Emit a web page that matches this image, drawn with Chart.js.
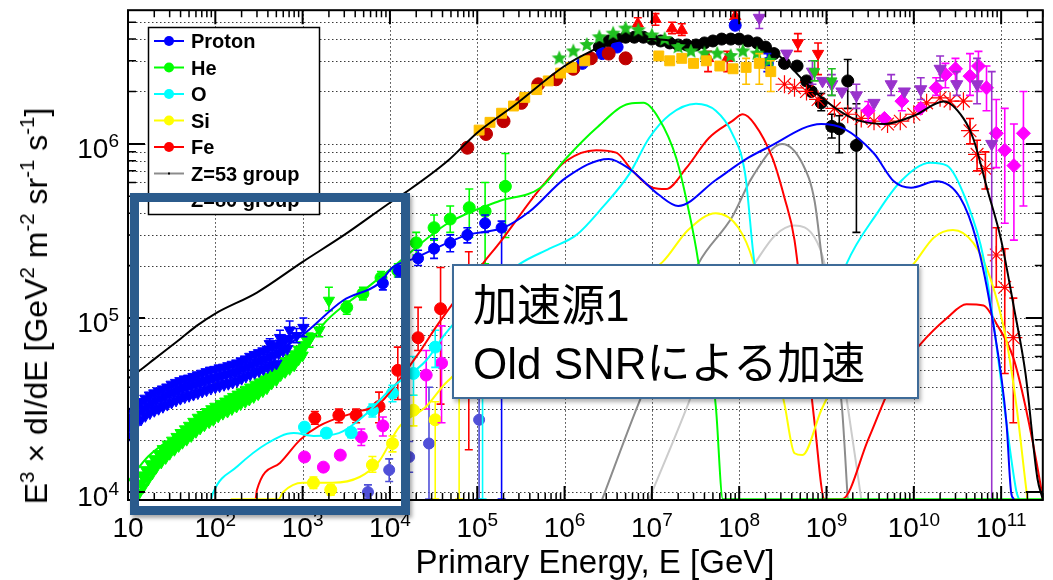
<!DOCTYPE html>
<html>
<head>
<meta charset="utf-8">
<script src="https://cdn.jsdelivr.net/npm/chart.js@4.4.1/dist/chart.umd.min.js"></script>
<style>
  html, body { margin: 0; padding: 0; background: #fff; }
  #wrap { position: relative; width: 1053px; height: 580px; overflow: hidden;
          font-family: "Liberation Sans", Arial, sans-serif; color: #000; }
  #chart { position: absolute; left: 0; top: 0; }
  #ytitle { position: absolute; left: 36px; top: 306px; font-size: 32px; line-height: 1;
            white-space: nowrap; transform: translate(-50%, -50%) rotate(-90deg); }
  #ytitle sup { font-size: 64%; vertical-align: baseline; position: relative; top: -0.62em; }
  #xtitle { position: absolute; left: 595px; top: 545px; font-size: 33px; line-height: 1;
            white-space: nowrap; transform: translateX(-50%); }
  #focus { position: absolute; left: 130px; top: 193px; width: 280px; height: 322px;
           box-sizing: border-box; border: 9px solid #2b5b8c;
           box-shadow: 2px 3px 4px rgba(0,0,0,0.35); }
  #note { position: absolute; left: 452px; top: 264px; width: 467px; height: 135px;
          box-sizing: border-box; background: #fff; border: 2px solid #3e6b98;
          box-shadow: 2px 3px 4px rgba(0,0,0,0.3);
          font-family: "Liberation Sans", "Noto Sans CJK JP", sans-serif; font-size: 44px; line-height: 1; }
  #note div { position: absolute; left: 19px; white-space: nowrap; }
  #note .l1 { top: 18px; }
  #note .l2 { top: 76px; }
</style>
</head>
<body>
<div id="wrap">
  <canvas id="chart" width="1053" height="580"></canvas>
  <div id="ytitle">E<sup>3</sup> × dI/dE [GeV<sup>2</sup> m<sup>-2</sup> sr<sup>-1</sup> s<sup>-1</sup>]</div>
  <div id="xtitle">Primary Energy, E [GeV]</div>
  <div id="focus"></div>
  <div id="note"><div class="l1">加速源1</div><div class="l2">Old SNRによる加速</div></div>
</div>
<script>
// ---- axis ranges and decade tick exponents ----
const xMin = 10, xMax = 3.0e11;
const yMin = 9.0e3, yMax = 5.86e6;
const xTickExp = [1, 2, 3, 4, 5, 6, 7, 8, 9, 10, 11];
const yTickExp = [4, 5, 6];

// ---- model curves [E (GeV), E^3 dI/dE] ----
const totalModel = [[10,4.5e4],[13,4.9e4],[20,5.8e4],[40,7.6e4],[61,9.0e4],[100,1.06e5],[300,1.4e5],[1e3,2.1e5],[3e3,3.0e5],[1.07e4,4.7e5],[1.5e4,5.25e5],[4.6e4,8.0e5],[1e5,1.16e6],[2.6e5,1.65e6],[1e6,2.8e6],[2e6,3.4e6],[4e6,3.9e6],[1e7,4.0e6],[3e7,3.8e6],[1e8,4.1e6],[2e8,3.7e6],[3.3e8,3.0e6],[6e8,2.2e6],[1e9,1.75e6],[2e9,1.4e6],[4.6e9,1.3e6],[1e10,1.45e6],[2.2e10,1.75e6],[3.7e10,1.4e6],[4.8e10,1.07e6],[7e10,5.4e5],[1e11,2.8e5],[1.4e11,1.15e5],[1.9e11,4.8e4],[2.6e11,1.2e4],[3e11,9.1e3]];
const protonModel = [[10,2.4e4],[20,3.3e4],[50,4.3e4],[100,4.7e4],[300,5.6e4],[1e3,8.0e4],[2.9e3,1.26e5],[7.5e3,1.58e5],[1.07e4,1.95e5],[1.9e4,2.2e5],[7.7e4,3.0e5],[2e5,3.3e5],[4e5,4.1e5],[1.04e6,6.4e5],[3.2e6,8.2e5],[5.5e6,7.2e5],[1.2e7,5.1e5],[2e7,4.4e5],[5.4e7,6.2e5],[1.26e8,8.3e5],[2.1e8,9.5e5],[8.7e8,1.3e6],[1.6e9,1.22e6],[3.5e9,8.8e5],[5.9e9,6.1e5],[9.3e9,5.6e5],[1.8e10,6.1e5],[3.4e10,4.9e5],[5.2e10,2.8e5],[8.1e10,9.3e4],[1.15e11,2.5e4],[1.3e11,1.0e4],[1.4e11,9.1e3]];
const heliumModel = [[10,1.15e4],[17,1.6e4],[40,2.2e4],[100,3.0e4],[300,4.1e4],[1e3,6.5e4],[1.9e3,9.7e4],[4.5e3,1.38e5],[1.07e4,1.95e5],[4.6e4,3.5e5],[1.8e5,4.7e5],[5.3e5,5.6e5],[1.05e6,8.3e5],[2.3e6,1.23e6],[5.5e6,1.7e6],[8e6,1.72e6],[1.2e7,1.4e6],[1.9e7,8.3e5],[2.6e7,4.3e5],[3.4e7,2.1e5],[5.4e7,3.1e4],[6.5e7,9.1e3],[3e11,9.1e3]];
const oxygenModel = [[90,9.1e3],[95,1.0e4],[178,1.4e4],[390,1.9e4],[790,2.18e4],[1.33e3,2.1e4],[2.6e3,2.18e4],[5.3e3,2.8e4],[1.07e4,4.0e4],[2.6e4,5.7e4],[4.3e4,8.1e4],[1e5,1.3e5],[3.1e5,2.05e5],[6.7e5,2.5e5],[1.37e6,3.0e5],[2.7e6,4.3e5],[5.5e6,6.7e5],[9.3e6,1.08e6],[1.6e7,1.47e6],[3.2e7,1.7e6],[5.4e7,1.55e6],[8.3e7,1.15e6],[1.17e8,6.7e5],[1.5e8,2.05e5],[3e8,6e4],[5e8,4e4],[9e8,8e4],[1.7e9,2.05e5],[3.8e9,4.0e5],[7.1e9,6.1e5],[1.55e10,7.8e5],[2.4e10,7.5e5],[4e10,4.7e5],[6.3e10,2.2e5],[8.8e10,7.1e4],[1.15e11,2.5e4],[1.5e11,1.0e4],[1.6e11,9.1e3]];
const siliconModel = [[150,9.1e3],[530,9.1e3],[600,1.0e4],[1e3,1.13e4],[2.2e3,1.13e4],[4.5e3,1.22e4],[7.5e3,1.5e4],[1.27e4,2.36e4],[2.6e4,3.1e4],[4.3e4,4.2e4],[1e5,6e4],[1e6,1.1e5],[6e6,1.6e5],[1.33e7,2.1e5],[2.6e7,3.2e5],[5.4e7,4.0e5],[9.8e7,3.3e5],[1.45e8,2.1e5],[2.2e8,8e4],[3.3e8,3.2e4],[4.3e8,1.67e4],[5.3e8,1.63e4],[8.7e8,2.95e4],[1.23e9,4.2e4],[3e9,1.1e5],[1e10,2.05e5],[1.7e10,2.9e5],[2.8e10,3.2e5],[4.8e10,2.7e5],[7.5e10,1.7e5],[1.15e11,7.4e4],[1.5e11,3.1e4],[1.9e11,1.13e4],[2e11,9.1e3]];
const ironModel = [[290,9.1e3],[300,1.03e4],[550,1.47e4],[940,2.0e4],[1.55e3,2.4e4],[3.8e3,2.85e4],[7.5e3,3.2e4],[1.27e4,4.4e4],[2.1e4,6.2e4],[3.6e4,9.3e4],[1.2e5,2.1e5],[1.8e5,2.7e5],[5.2e5,5.5e5],[1.05e6,8.0e5],[2.3e6,9.2e5],[3.9e6,8.9e5],[6e6,7.0e5],[1.02e7,5.6e5],[1.45e7,5.5e5],[2.5e7,7.3e5],[4.5e7,1.08e6],[8.3e7,1.35e6],[1.1e8,1.48e6],[1.5e8,1.3e6],[2.4e8,8.3e5],[3.3e8,4.9e5],[4.3e8,2.8e5],[7.3e8,2.5e4],[9.5e8,9.1e3],[1.5e9,9.1e3],[3e9,2.0e4],[5.9e9,4.4e4],[1.2e10,7.1e4],[2.4e10,1.0e5],[4e10,1.2e5],[6.3e10,1.18e5],[8.8e10,9.3e4],[1.38e11,5.9e4],[1.9e11,3.1e4],[2.8e11,1.13e4],[3e11,9.1e3]];
const z53Model = [[2.7e6,9.1e3],[7e6,3.2e4],[3.4e7,2.05e5],[8.3e7,3.8e5],[1.4e8,6.4e5],[3.1e8,1.0e6],[5.3e8,7.7e5],[7.3e8,4.7e5],[9e8,2.05e5],[1.5e9,3.1e4],[1.75e9,9.1e3]];
const z80Model = [[9.3e6,9.1e3],[2.6e7,3.2e4],[6e7,1.0e5],[1.5e8,2.05e5],[2.6e8,3.0e5],[4.3e8,3.4e5],[7.3e8,2.9e5],[9.5e8,2.05e5],[1.75e9,3.1e4],[2.5e9,9.1e3]];

// ---- measurements [E, value, (errLow, errHigh)] ----
const protonDirectA = [[10,2.6e4],[11.2,2.9e4],[12.6,3.1e4],[14.1,3.3e4],[15.8,3.45e4],[17.8,3.6e4],[20,3.7e4],[22.4,3.8e4],[25.1,3.9e4],[28.2,4.0e4],[31.6,4.15e4],[35.5,4.25e4],[39.8,4.35e4],[44.7,4.45e4],[50.1,4.5e4],[56.2,4.6e4],[63.1,4.7e4],[70.8,4.8e4],[79.4,4.9e4],[89.1,5.0e4],[100,5.05e4],[112,5.15e4],[126,5.2e4],[141,5.3e4],[158,5.4e4],[178,5.5e4],[200,5.65e4],[224,5.8e4],[251,6.0e4],[282,6.15e4],[316,6.3e4],[355,6.45e4],[398,6.6e4],[447,6.8e4],[501,6.95e4],[562,7.15e4],[631,7.4e4],[708,7.6e4]];
const protonDirectB = [[10.6,2.45e4],[11.9,2.67e4],[13.3,2.86e4],[15,3.02e4],[16.8,3.14e4],[18.8,3.25e4],[21.1,3.34e4],[23.7,3.43e4],[26.6,3.53e4],[29.9,3.63e4],[33.5,3.72e4],[37.6,3.82e4],[42.2,3.91e4],[47.3,3.98e4],[53.1,4.05e4],[59.6,4.13e4],[66.8,4.21e4],[75,4.31e4],[84.1,4.38e4],[94.4,4.47e4],[106,4.54e4],[119,4.62e4],[133,4.69e4],[150,4.76e4],[168,4.85e4],[188,4.97e4],[211,5.12e4],[237,5.26e4],[266,5.39e4],[299,5.53e4],[335,5.65e4],[376,5.8e4],[422,5.96e4],[473,6.1e4],[531,6.27e4],[596,6.47e4],[668,6.66e4]];
const protonDirectD = [[10,2.09e4],[11.2,2.26e4],[12.6,2.48e4],[14.1,2.61e4],[15.8,2.74e4],[17.8,2.84e4],[20,2.93e4],[22.4,3.01e4],[25.1,3.09e4],[28.2,3.18e4],[31.6,3.27e4],[35.5,3.36e4],[39.8,3.44e4],[44.7,3.51e4],[50.1,3.57e4],[56.2,3.63e4],[63.1,3.7e4],[70.8,3.78e4],[79.4,3.85e4],[89.1,3.93e4],[100,4.0e4],[112,4.06e4],[126,4.13e4],[141,4.19e4],[158,4.26e4],[178,4.35e4],[200,4.48e4],[224,4.61e4],[251,4.74e4],[282,4.85e4],[316,4.96e4],[355,5.09e4],[398,5.22e4],[447,5.35e4],[501,5.48e4]];
const protonDirectC = [[420,7.1e4,6.6e4,7.6e4],[550,7.7e4,7.0e4,8.5e4],[710,8.5e4,7.6e4,9.6e4],[850,7.9e4,7.2e4,8.7e4],[1.02e3,8.8e4,7.8e4,1.0e5]];
const heliumDirectA = [[13,1.12e4],[14.5,1.25e4],[16,1.34e4],[18,1.45e4],[20,1.55e4],[22.5,1.66e4],[25,1.77e4],[28.5,1.88e4],[32,1.98e4],[36,2.08e4],[40,2.19e4],[45,2.3e4],[50,2.41e4],[56,2.54e4],[63,2.68e4],[71,2.78e4],[80,2.89e4],[90,3.0e4],[100,3.1e4],[115,3.22e4],[130,3.32e4],[145,3.42e4],[160,3.53e4],[180,3.64e4],[200,3.75e4],[225,3.88e4],[250,4.0e4],[285,4.15e4],[320,4.28e4],[360,4.45e4],[400,4.6e4],[450,4.85e4],[500,5.1e4],[560,5.4e4],[630,5.65e4],[710,5.9e4],[800,6.2e4],[900,6.6e4],[1000,7.0e4],[1120,7.4e4],[1250,7.8e4]];
const heliumDirectM = [[14,1.12e4],[15.3,1.2e4],[17,1.31e4],[19,1.41e4],[21.3,1.5e4],[23.7,1.6e4],[26.5,1.7e4],[29.5,1.78e4],[33,1.87e4],[37,1.98e4],[41.5,2.08e4],[46.5,2.18e4],[52,2.29e4],[58.5,2.42e4],[65.5,2.53e4],[73.5,2.62e4],[82,2.72e4],[92,2.82e4],[103,2.93e4],[116,3.02e4],[130,3.1e4],[146,3.21e4],[164,3.32e4],[184,3.42e4],[206,3.53e4],[231,3.66e4],[260,3.79e4],[291,3.9e4],[327,4.02e4],[367,4.17e4],[412,4.36e4],[462,4.6e4],[518,4.88e4],[581,5.1e4],[652,5.38e4],[731,5.6e4],[820,5.85e4],[920,6.3e4],[1030,6.7e4]];
const heliumDirectB = [[13.5,9.9e3],[15,1.07e4],[17,1.18e4],[19,1.28e4],[21,1.38e4],[24,1.48e4],[27,1.57e4],[30,1.66e4],[34,1.75e4],[38,1.84e4],[42,1.92e4],[47,2.0e4],[53,2.1e4],[60,2.22e4],[67,2.32e4],[75,2.42e4],[85,2.52e4],[95,2.6e4],[108,2.72e4],[122,2.82e4],[138,2.9e4],[155,3.0e4],[175,3.1e4],[195,3.2e4],[220,3.3e4],[245,3.4e4],[275,3.52e4],[310,3.65e4],[350,3.8e4],[390,3.95e4],[440,4.2e4],[500,4.4e4],[560,4.7e4],[630,4.9e4],[710,5.1e4],[800,5.35e4],[900,5.8e4],[1000,6.1e4]];
const heliumDirectC = [[1.2e3,7.5e4,6.8e4,8.2e4],[1.55e3,8.5e4,7.8e4,9.2e4],[2.0e3,1.26e5,1.1e5,1.5e5]];
const protonBalloon = [[8.3e3,1.58e5,1.45e5,1.72e5],[1.27e4,1.87e5,1.72e5,2.0e5],[2.1e4,2.2e5,2.0e5,2.45e5],[3.2e4,2.5e5,2.2e5,2.85e5],[4.9e4,2.7e5,2.4e5,3.0e5],[7.7e4,3.0e5,2.7e5,3.3e5],[1.23e5,3.5e5,3.1e5,3.9e5],[1.9e5,3.3e5,9.1e3,3.6e5]];
const heliumBalloon = [[3.2e3,1.15e5,1.05e5,1.25e5],[4.9e3,1.38e5,1.27e5,1.5e5],[7.9e3,1.7e5,1.55e5,1.85e5],[1.23e4,1.87e5,1.72e5,2.05e5],[2e4,2.7e5,2.3e5,3.1e5],[3.2e4,3.3e5,2.8e5,3.9e5],[4.9e4,3.7e5,3.1e5,4.4e5],[8.1e4,4.3e5,2.9e5,5.5e5],[1.23e5,4.1e5,2.05e5,6.0e5],[2.1e5,5.7e5,2.9e5,8.8e5]];
const oxygenData = [[1.05e3,2.36e4,2.2e4,2.5e4],[1.87e3,2.18e4,2.05e4,2.3e4],[3.6e3,2.2e4,2.05e4,2.35e4],[6.3e3,2.95e4,2.7e4,3.2e4],[1.07e4,3.7e4,3.3e4,4.1e4],[1.86e4,4.8e4,3.6e4,6.0e4],[3.3e4,6.8e4,5.2e4,8.5e4],[1.15e5,1.3e5,9.1e3,2.0e5]];
const neonData = [[1.05e3,1.59e4],[1.73e3,1.39e4],[2.7e3,1.63e4],[4.7e3,2.07e4,1.85e4,2.3e4],[8.3e3,2.4e4,2.1e4,2.7e4],[2.6e4,4.7e4,3.0e4,6.5e4],[3.9e4,5.5e4,2.5e4,9.0e4]];
const siliconData = [[1.33e3,1.13e4,1.05e4,1.22e4],[2.1e3,1.03e4,9.6e3,1.1e4],[6.3e3,1.43e4,1.3e4,1.6e4],[1.07e4,1.9e4,1.7e4,2.1e4],[1.86e4,2.95e4,2.4e4,3.6e4],[3.3e4,2.6e4,9.1e3,3.3e4],[6.2e4,5.0e4,9.1e3,8.0e4]];
const ironData = [[1.38e3,2.66e4,2.45e4,2.9e4],[2.6e3,2.76e4,2.5e4,3.0e4],[4.1e3,2.76e4,2.5e4,3.0e4],[7.5e3,3.1e4,2.5e4,3.75e4],[1.23e4,5.0e4,3.4e4,6.8e4],[2.1e4,7.7e4,6.5e4,1.15e5],[3.8e4,1.13e5,3.2e4,1.95e5],[8e4,1.3e5,1.75e4,2.4e5]];
const heavyData = [[5.6e3,1.0e4,9.2e3,1.1e4],[9.8e3,1.34e4,1.15e4,1.55e4],[1.66e4,1.59e4,1.3e4,1.95e4],[2.8e4,1.9e4,9.1e3,4.0e4],[1.05e5,2.6e4,9.1e3,6.0e4]];
const airShowerRed = [[7.7e4,9.5e5],[1.26e5,1.14e6],[2e5,1.35e6],[3.2e5,1.72e6],[5e5,2.2e6],[8e5,2.35e6],[1.26e6,2.7e6],[2e6,3.1e6],[3.2e6,3.3e6],[5e6,3.1e6]];
const airShowerGold = [[1.05e5,1.2e6],[1.4e5,1.33e6],[1.9e5,1.5e6],[2.6e5,1.65e6],[3.5e5,1.85e6],[4.8e5,2.05e6],[6.5e5,2.3e6],[9e5,2.55e6],[1.2e6,2.75e6],[1.7e6,3.0e6],[1.2e7,3.2e6],[1.6e7,3.0e6],[2.2e7,3.1e6],[3e7,2.9e6],[4.2e7,3.0e6],[6e7,2.8e6],[8.5e7,2.7e6],[1.2e8,2.75e6,2.2e6,3.1e6],[1.7e8,2.9e6,2.2e6,3.3e6],[2.3e8,2.6e6,2.0e6,3.0e6]];
const airShowerStar = [[8.7e5,3.1e6],[1.26e6,3.4e6],[1.8e6,3.7e6],[2.5e6,4.1e6],[3.6e6,4.3e6],[5e6,4.6e6],[7e6,4.5e6],[1e7,4.2e6],[1.4e7,4.0e6],[2e7,3.6e6],[2.8e7,3.4e6],[4e7,3.3e6],[5.6e7,3.3e6],[8e7,3.2e6],[1.1e8,3.4e6],[1.6e8,3.3e6],[2.2e8,3.0e6]];
const airShowerGreenTri = [[7.3e8,2.6e6,2.3e6,3.0e6],[1.15e9,2.3e6,1.9e6,2.7e6]];
const airShowerBlack = [[2.5e6,3.6e6],[3.2e6,3.9e6],[4e6,4.0e6],[5e6,4.1e6],[6.3e6,4.1e6],[8e6,4.1e6],[1e7,4.0e6],[1.26e7,3.9e6],[1.6e7,3.8e6],[2e7,3.7e6],[2.5e7,3.7e6],[3.2e7,3.7e6],[4e7,3.8e6],[5e7,3.9e6],[6.3e7,4.0e6],[8e7,4.0e6],[1e8,4.0e6],[1.26e8,3.9e6],[1.6e8,3.8e6],[2e8,3.6e6],[2.5e8,3.3e6],[3.3e8,2.9e6],[4.6e8,2.8e6],[5.9e8,2.3e6],[6.7e8,2.0e6],[8.7e8,1.72e6,1.55e6,1.95e6],[1.15e9,1.26e6,1.08e6,1.48e6],[1.4e9,1.22e6,8.9e5,1.45e6],[1.75e9,2.3e6,1.6e6,3.05e6],[2.2e9,9.8e5,3.1e5,1.7e6]];
const airShowerBlue = [[1.6e6,2.9e6],[2.7e6,3.3e6],[4e6,3.6e6],[9e7,4.8e6],[2.1e8,2.9e6,2.6e6,3.3e6]];
const airShowerRedUp = [[6.9e6,4.9e6,4.6e6,5.3e6],[1.1e7,5.2e6,4.8e6,5.6e6],[1.7e7,4.6e6,4.3e6,5.0e6],[2.2e7,4.5e6,4.2e6,4.9e6],[4.4e7,3.1e6,2.6e6,3.4e6],[7.3e7,3.1e6,2.6e6,3.4e6],[9e7,5.4e6,5.0e6,5.8e6]];
const airShowerRedDown = [[4.7e8,3.8e6,3.4e6,4.3e6],[8e8,3.3e6,2.5e6,3.8e6]];
const uhePurple = [[1.7e8,5.3e6,4.6e6,6.0e6],[3.5e8,3.3e6],[6.9e8,2.6e6,2.2e6,3.0e6],[9e8,2.3e6],[1.15e9,2.2e6,1.9e6,2.5e6],[1.5e9,2.0e6],[2.2e9,1.9e6,1.6e6,2.2e6],[3.5e9,1.72e6],[5.5e9,2.2e6,1.9e6,2.5e6],[7.8e9,2.0e6],[1.2e10,2.06e6,1.8e6,2.4e6],[2e10,2.7e6,2.3e6,3.2e6],[3.1e10,2.2e6,1.9e6,2.6e6],[5.3e10,2.2e6,1.7e6,3.1e6],[7.8e10,1.0e6,9.1e3,2.6e6]];
const uheMagenta = [[3e9,1.55e6,1.35e6,1.75e6],[4.6e9,1.4e6],[7.3e9,1.76e6,1.55e6,2.0e6],[1.2e10,1.6e6],[1.8e10,2.1e6,1.9e6,2.4e6],[2.3e10,2.5e6,2.1e6,2.9e6],[3e10,2.7e6,2.3e6,3.1e6],[4.4e10,2.45e6,1.9e6,3.3e6],[5.5e10,2.8e6,2.0e6,3.4e6],[6.8e10,2.1e6,1.55e6,2.8e6],[8.8e10,1.15e6,7.3e5,1.8e6],[1.1e11,9.2e5,3.5e5,1.6e6],[1.4e11,7.5e5,2.8e5,1.3e6],[1.8e11,1.15e6,4.4e5,2.0e6]];
const uheAsterisk = [[3.3e8,2.2e6],[4.3e8,2.1e6],[5.9e8,2.0e6],[8e8,1.8e6],[1.23e9,1.6e6],[1.75e9,1.48e6],[2.5e9,1.4e6],[3.5e9,1.35e6],[5e9,1.3e6],[7e9,1.35e6],[1e10,1.48e6],[1.4e10,1.72e6],[2e10,1.84e6],[2.6e10,1.76e6],[3.7e10,1.76e6],[4.4e10,1.19e6,1.0e6,1.4e6],[5.3e10,8.7e5,7.0e5,1.05e6],[6.6e10,7.2e5,5.5e5,9.0e5],[8.8e10,2.3e5,1.5e5,3.3e5],[1.1e11,1.5e5,4.8e4,2.5e5],[1.38e11,7.7e4,2.5e4,1.3e5]];

// ---- legend entries: label, colour, marker ----
const legendLabels = ['Proton', 'He', 'O', 'Si', 'Fe', 'Z=53 group', 'Z=80 group'];
const legendColors = ['#0000ff', '#00ff00', '#00ffff', '#ffff00', '#ff0000', '#8c8c8c', '#cccccc'];
const legendMarker = [true, true, true, true, true, false, false];

// ---- helpers ----
const toXY = arr => arr.map(p => ({ x: p[0], y: p[1] }));
const toErr = arr => arr.map(p => (p.length > 3 ? [p[2], p[3]] : null));

function filledStar(color, r) {
  const c = document.createElement('canvas');
  c.width = c.height = 2 * r + 2;
  const g = c.getContext('2d');
  g.fillStyle = color;
  g.beginPath();
  for (let i = 0; i < 10; i++) {
    const a = -Math.PI / 2 + i * Math.PI / 5;
    const rr = i % 2 ? r * 0.45 : r;
    g.lineTo(r + 1 + rr * Math.cos(a), r + 1 + rr * Math.sin(a));
  }
  g.closePath();
  g.fill();
  return c;
}

function curve(label, arr, color, order) {
  return { type: 'line', label, data: toXY(arr), borderColor: color, backgroundColor: color,
           borderWidth: 2, pointRadius: 0, fill: false, cubicInterpolationMode: 'monotone', order };
}
function marks(label, arr, color, style, r, extra) {
  return Object.assign({ type: 'scatter', label, data: toXY(arr), showLine: false,
           pointStyle: style, pointRadius: r, pointBackgroundColor: color, pointBorderColor: color,
           pointBorderWidth: 1, borderColor: color, backgroundColor: color,
           errBars: toErr(arr), order: 5 }, extra || {});
}

const down = { pointRotation: 180 };
const datasets = [
  curve('total', totalModel, '#000000', -1),
  curve('Proton', protonModel, '#0000ff', 0),
  curve('He', heliumModel, '#00ff00', 0),
  curve('O', oxygenModel, '#00ffff', 0),
  curve('Si', siliconModel, '#ffff00', 0),
  curve('Fe', ironModel, '#ff0000', 0),
  curve('Z=53 group', z53Model, '#8c8c8c', 0),
  curve('Z=80 group', z80Model, '#cccccc', 0),

  marks('p direct A', protonDirectA, '#0000ff', 'triangle', 6.5, down),
  marks('p direct B', protonDirectB, '#0000ff', 'triangle', 6.5, down),
  marks('p direct D', protonDirectD, '#0000ff', 'triangle', 6.5, down),
  marks('p direct C', protonDirectC, '#0000ff', 'triangle', 6.5, down),
  marks('He direct A', heliumDirectA, '#00ff00', 'triangle', 6.5, down),
  marks('He direct M', heliumDirectM, '#00ff00', 'triangle', 6.5, down),
  marks('He direct B', heliumDirectB, '#00ff00', 'triangle', 6.5, down),
  marks('He direct C', heliumDirectC, '#00ff00', 'triangle', 6.5, down),
  marks('p balloon', protonBalloon, '#0000ff', 'circle', 5.5),
  marks('He balloon', heliumBalloon, '#00ff00', 'circle', 6),
  marks('O data', oxygenData, '#00ffff', 'circle', 6),
  marks('Ne data', neonData, '#ff00ff', 'circle', 6),
  marks('Si data', siliconData, '#ffff00', 'circle', 6),
  marks('Fe data', ironData, '#ff0000', 'circle', 6),
  marks('heavy data', heavyData, '#5050d8', 'circle', 5.5),

  marks('shower gold', airShowerGold, '#ffc000', 'rect', 7),
  marks('shower red', airShowerRed, '#c00000', 'circle', 6.5),
  marks('shower star', airShowerStar, '#20c020', filledStar('#20c020', 8), 8),
  marks('shower green tri', airShowerGreenTri, '#20c020', 'triangle', 6, down),
  marks('shower blue', airShowerBlue, '#0000ff', 'circle', 6),
  marks('shower red up', airShowerRedUp, '#ff0000', 'triangle', 6.5),
  marks('shower red down', airShowerRedDown, '#ff0000', 'triangle', 6.5, down),
  marks('UHE purple', uhePurple, '#9933cc', 'triangle', 7, down),
  marks('UHE magenta', uheMagenta, '#ff00ff', 'rectRot', 7),
  marks('UHE asterisk', uheAsterisk, '#ff0000', 'star', 9, { pointBorderWidth: 1.2 }),
  marks('shower black', airShowerBlack, '#000000', 'circle', 6)
];

// vertical error bars with caps, drawn with each dataset
const errorBars = {
  id: 'errorBars',
  afterDatasetDraw(chart, args) {
    const ds = chart.data.datasets[args.index];
    if (!ds.errBars) return;
    const { ctx, chartArea: a, scales: { x, y } } = chart;
    ctx.save();
    ctx.beginPath();
    ctx.rect(a.left, a.top, a.right - a.left, a.bottom - a.top);
    ctx.clip();
    ctx.strokeStyle = ds.borderColor;
    ctx.lineWidth = 1.6;
    ds.data.forEach((p, i) => {
      const e = ds.errBars[i];
      if (!e) return;
      const px = x.getPixelForValue(p.x);
      const y1 = y.getPixelForValue(e[0]);
      const y2 = y.getPixelForValue(e[1]);
      ctx.beginPath();
      ctx.moveTo(px, y1); ctx.lineTo(px, y2);
      ctx.moveTo(px - 4, y1); ctx.lineTo(px + 4, y1);
      ctx.moveTo(px - 4, y2); ctx.lineTo(px + 4, y2);
      ctx.stroke();
    });
    ctx.restore();
  }
};

// dotted grid, box frame, inward ticks, decade labels and legend
const axesDecor = {
  id: 'axesDecor',
  beforeDatasetsDraw(chart) {
    const { ctx, chartArea: a, scales: { x, y } } = chart;
    ctx.save();
    ctx.strokeStyle = '#3a3a3a';
    ctx.lineWidth = 1;
    ctx.setLineDash([1.5, 2.5]);
    xTickExp.forEach(k => {
      const px = Math.round(x.getPixelForValue(Math.pow(10, k))) + 0.5;
      if (px <= a.left + 1 || px >= a.right - 1) return;
      ctx.beginPath(); ctx.moveTo(px, a.top); ctx.lineTo(px, a.bottom); ctx.stroke();
    });
    for (let k = 3; k <= 6; k++) {
      for (let m = 1; m <= 9; m++) {
        const v = m * Math.pow(10, k);
        if (v <= yMin || v >= yMax) continue;
        const py = Math.round(y.getPixelForValue(v)) + 0.5;
        ctx.beginPath(); ctx.moveTo(a.left, py); ctx.lineTo(a.right, py); ctx.stroke();
      }
    }
    ctx.restore();
  },
  afterDatasetsDraw(chart) {
    const { ctx, chartArea: a, scales: { x, y } } = chart;
    ctx.save();
    ctx.strokeStyle = '#000';
    // ticks on all four sides
    const tick = (len, lw, vals, axis) => {
      ctx.lineWidth = lw;
      vals.forEach(v => {
        if (axis === 'x') {
          const px = x.getPixelForValue(v);
          if (px < a.left || px > a.right) return;
          ctx.beginPath();
          ctx.moveTo(px, a.bottom); ctx.lineTo(px, a.bottom - len);
          ctx.moveTo(px, a.top); ctx.lineTo(px, a.top + len);
          ctx.stroke();
        } else {
          const py = y.getPixelForValue(v);
          if (py < a.top || py > a.bottom) return;
          ctx.beginPath();
          ctx.moveTo(a.left, py); ctx.lineTo(a.left + len, py);
          ctx.moveTo(a.right, py); ctx.lineTo(a.right - len, py);
          ctx.stroke();
        }
      });
    };
    const xMinor = [], yMinor = [];
    for (let k = 1; k <= 11; k++) for (let m = 2; m <= 9; m++) xMinor.push(m * Math.pow(10, k));
    for (let k = 3; k <= 6; k++) for (let m = 2; m <= 9; m++) yMinor.push(m * Math.pow(10, k));
    tick(7, 1.5, xMinor, 'x');
    tick(14, 2, xTickExp.map(k => Math.pow(10, k)), 'x');
    tick(8, 1.5, yMinor, 'y');
    tick(17, 2, yTickExp.map(k => Math.pow(10, k)), 'y');
    ctx.lineWidth = 2;
    ctx.strokeRect(a.left, a.top, a.right - a.left, a.bottom - a.top);

    // decade labels: "10" with a raised exponent
    ctx.fillStyle = '#000';
    ctx.textBaseline = 'alphabetic';
    ctx.textAlign = 'left';
    const mainFont = '28px "Liberation Sans", Arial, sans-serif';
    const supFont = '19px "Liberation Sans", Arial, sans-serif';
    const label = (exp, cx, baseline, align) => {
      ctx.font = mainFont;
      const wb = ctx.measureText('10').width;
      const sup = exp === 1 ? '' : String(exp);
      ctx.font = supFont;
      const ws = sup ? ctx.measureText(sup).width : 0;
      const start = align === 'center' ? cx - (wb + ws) / 2 : cx - (wb + ws);
      ctx.font = mainFont;
      ctx.fillText('10', start, baseline);
      if (sup) { ctx.font = supFont; ctx.fillText(sup, start + wb, baseline - 11); }
    };
    xTickExp.forEach(k => label(k, x.getPixelForValue(Math.pow(10, k)), 537, 'center'));
    yTickExp.forEach(k => label(k, 119, y.getPixelForValue(Math.pow(10, k)) + 14, 'right'));

    // legend box
    const lx = 148, ly = 27, lw = 171, lh = 187;
    ctx.fillStyle = '#fff';
    ctx.fillRect(lx, ly, lw, lh);
    ctx.lineWidth = 1.5;
    ctx.strokeStyle = '#000';
    ctx.strokeRect(lx + 0.5, ly + 0.5, lw, lh);
    ctx.font = 'bold 20px "Liberation Sans", Arial, sans-serif';
    legendLabels.forEach((txt, i) => {
      const cy = 41 + i * 26.5;
      ctx.strokeStyle = legendColors[i];
      ctx.lineWidth = 2;
      ctx.beginPath(); ctx.moveTo(154, cy); ctx.lineTo(184, cy); ctx.stroke();
      if (legendMarker[i]) {
        ctx.fillStyle = legendColors[i];
        ctx.beginPath(); ctx.arc(169, cy, 5, 0, Math.PI * 2); ctx.fill();
      } else {
        ctx.fillStyle = '#000';
        ctx.fillRect(168, cy - 1, 2, 2);
      }
      ctx.fillStyle = '#000';
      ctx.fillText(txt, 191, cy + 7);
    });
    ctx.restore();
  }
};

new Chart(document.getElementById('chart'), {
  type: 'scatter',
  data: { datasets },
  options: {
    responsive: false,
    animation: false,
    events: [],
    layout: { padding: { left: 128, top: 9, right: 3, bottom: 80 } },
    plugins: { legend: { display: false }, tooltip: { enabled: false } },
    scales: {
      x: { type: 'logarithmic', min: xMin, max: xMax, bounds: 'data', display: false },
      y: { type: 'logarithmic', min: yMin, max: yMax, bounds: 'data', display: false }
    }
  },
  plugins: [errorBars, axesDecor]
});
</script>
</body>
</html>
